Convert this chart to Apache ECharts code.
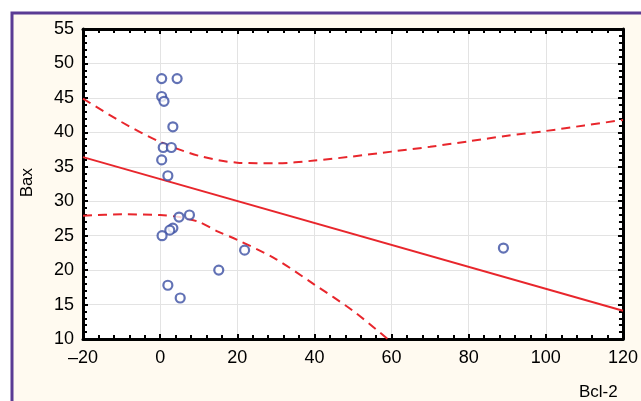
<!DOCTYPE html>
<html>
<head>
<meta charset="utf-8">
<script src="https://cdn.jsdelivr.net/npm/echarts@6/dist/echarts.min.js"></script>
<style>
html, body { margin: 0; padding: 0; background: #ffffff; }
#chart { width: 641px; height: 401px; }
</style>
</head>
<body>
<div id="chart"></div>
<script>
// Bcl-2 vs Bax
const bcl2 = [0.4, 4.4, 0.4, 1.0, 3.3, 0.8, 2.9, 0.4, 2.0, 4.9, 7.6, 3.3, 2.5, 0.5, 15.2, 2.0, 5.2, 21.9, 89.0];
const bax = [47.8, 47.8, 45.2, 44.5, 40.8, 37.8, 37.8, 36.0, 33.7, 27.7, 28.0, 26.1, 25.8, 25.0, 20.0, 17.8, 15.95, 22.9, 23.2];

// fit line ends
const fitX = [-20, 120];
const fitY = [36.4, 14.1];

// confidence band
const upperX = [-20, -10, 0, 10, 20, 30, 40, 50, 60, 70, 80, 90, 100, 110, 120];
const upperY = [44.9, 41.5, 38.6, 36.6, 35.6, 35.5, 35.9, 36.5, 37.2, 37.9, 38.7, 39.5, 40.2, 41.0, 41.8];
const lowerX = [-20, -10, 0, 5, 10, 15, 20, 30, 40, 50, 59];
const lowerY = [27.9, 28.1, 28.0, 27.7, 27.0, 25.6, 24.4, 21.6, 17.9, 14.1, 10.0];

const zip = (a, b) => a.map((v, i) => [v, b[i]]);

const chart = echarts.init(document.getElementById('chart'));
const red = '#e8262c';
const axisBase = {
  min: -20, max: 120, interval: 20,
  axisLine: { show: true, onZero: false, lineStyle: { color: '#000', width: 3 } },
  axisTick: { show: true, inside: true, length: 5, lineStyle: { color: '#000', width: 2 } },
  minorTick: { show: true, splitNumber: 5, length: 4, lineStyle: { color: '#000', width: 2 } }
};
const labelStyle = {
  color: '#000', fontSize: 18, fontFamily: 'Liberation Sans',
  formatter: v => String(v).replace('-', '\u2013')
};
chart.setOption({
  animation: false,
  backgroundColor: '#ffffff',
  graphic: [
    {
      type: 'rect', z: -10,
      shape: { x: 12, y: 13, width: 650, height: 400 },
      style: { fill: '#fffaf0', stroke: '#5a3b94', lineWidth: 3 }
    },
    {
      type: 'text', left: 19, top: 168, rotation: Math.PI / 2,
      style: { text: 'Bax', font: '17px "Liberation Sans", Arial', fill: '#000' }
    },
    {
      type: 'text', left: 579, top: 384,
      style: { text: 'Bcl-2', font: '17px "Liberation Sans", Arial', fill: '#000' }
    }
  ],
  grid: {
    left: 83, right: 16, top: 29, bottom: 62,
    show: true, backgroundColor: '#ffffff', borderWidth: 0
  },
  xAxis: [
    Object.assign({}, axisBase, {
      type: 'value', position: 'bottom',
      axisLabel: Object.assign({ margin: 10 }, labelStyle),
      splitLine: { show: true, lineStyle: { color: '#e3e3e3', width: 1 } }
    }),
    Object.assign({}, axisBase, {
      type: 'value', position: 'top',
      axisLabel: { show: false },
      splitLine: { show: false }
    })
  ],
  yAxis: [
    Object.assign({}, axisBase, {
      type: 'value', position: 'left', min: 10, max: 55, interval: 5,
      axisLabel: Object.assign({ margin: 9 }, labelStyle),
      splitLine: { show: true, lineStyle: { color: '#e3e3e3', width: 1 } }
    }),
    Object.assign({}, axisBase, {
      type: 'value', position: 'right', min: 10, max: 55, interval: 5,
      axisLabel: { show: false },
      splitLine: { show: false }
    })
  ],
  series: [
    {
      type: 'line', data: zip(fitX, fitY), showSymbol: false,
      lineStyle: { color: red, width: 2 }, z: 3
    },
    {
      type: 'line', data: zip(upperX, upperY), showSymbol: false, smooth: 0.3,
      lineStyle: { color: red, width: 2, type: [9, 6] }, z: 3
    },
    {
      type: 'line', data: zip(lowerX, lowerY), showSymbol: false, smooth: 0.3,
      lineStyle: { color: red, width: 2, type: [9, 6] }, z: 3
    },
    {
      type: 'scatter', data: zip(bcl2, bax), symbol: 'circle', symbolSize: 9,
      itemStyle: { color: '#ffffff', borderColor: '#3b4fa3', borderWidth: 2.2 }, z: 4
    }
  ]
});
</script>
</body>
</html>
